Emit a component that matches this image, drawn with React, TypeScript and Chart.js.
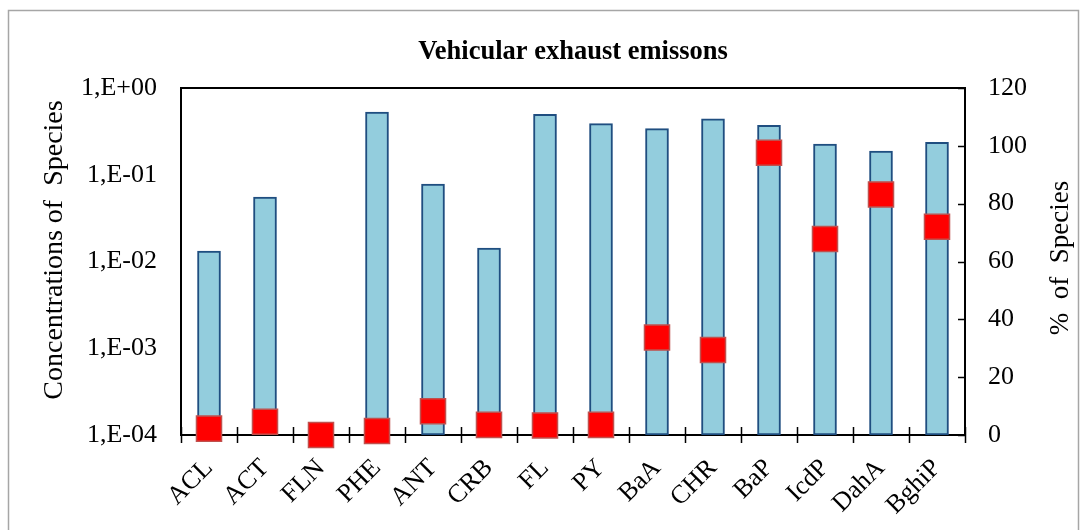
import React, { useEffect, useRef } from "react";
import { Chart, registerables } from "chart.js";

Chart.register(...registerables);

// PAH species measured in vehicular exhaust
const species = ["ACL", "ACT", "FLN", "PHE", "ANT", "CRB", "FL", "PY", "BaA", "CHR", "BaP", "IcdP", "DahA", "BghiP"];
// Concentrations (log axis); FLN has no bar
const concentrations = [0.0132, 0.0554, null, 0.529, 0.078, 0.0143, 0.497, 0.388, 0.34, 0.44, 0.372, 0.226, 0.188, 0.237];
// Share of each species (right axis, %)
const percentOfSpecies = [2.2, 4.6, 0, 1.4, 8.2, 3.5, 3.3, 3.5, 33.7, 29.4, 97.6, 67.8, 83.2, 72.0];
// Decade ticks on the concentration axis
const logTicks = [1e-4, 1e-3, 1e-2, 1e-1, 1];
const logTickLabels = ["1,E-04", "1,E-03", "1,E-02", "1,E-01", "1,E+00"];

const chartTitle = "Vehicular exhaust emissons";
const leftTitle = "Concentrations of  Species";
const rightTitle = "%  of  Species";

const SERIF = '"Liberation Serif", "Times New Roman", serif';

const decorations = {
  id: "decorations",
  beforeDraw(chart: any) {
    const { ctx, width, height } = chart;
    ctx.save();
    ctx.fillStyle = "#ffffff";
    ctx.fillRect(0, 0, width, height);
    // outer frame
    ctx.strokeStyle = "#a6a6a6";
    ctx.lineWidth = 1.5;
    ctx.strokeRect(8.5, 10.5, 1070, height + 10);
    ctx.restore();
  },
  beforeDatasetsDraw(chart: any) {
    const { ctx, chartArea } = chart;
    const { left, right, top, bottom } = chartArea;
    ctx.save();
    ctx.strokeStyle = "#000000";
    ctx.lineWidth = 2;
    ctx.strokeRect(left, top, right - left, bottom - top);
    // x-axis tick marks at category boundaries, crossing the axis
    const n = species.length;
    const step = (right - left) / n;
    ctx.lineWidth = 1.5;
    ctx.beginPath();
    for (let i = 0; i <= n; i++) {
      const x = Math.round(left + i * step) + 0.5;
      ctx.moveTo(x, bottom - 8);
      ctx.lineTo(x, bottom + 8);
    }
    // right axis tick marks, pointing inward
    const y1 = chart.scales.y1;
    y1.ticks.forEach((t: any) => {
      const y = Math.round(y1.getPixelForValue(t.value)) + 0.5;
      ctx.moveTo(right - 7, y);
      ctx.lineTo(right, y);
    });
    ctx.stroke();
    ctx.restore();
  },
  afterDraw(chart: any) {
    const { ctx, chartArea } = chart;
    ctx.save();
    ctx.fillStyle = "#000000";
    ctx.textAlign = "center";
    ctx.textBaseline = "middle";
    ctx.font = `bold 26.5px ${SERIF}`;
    ctx.fillText(chartTitle, (chartArea.left + chartArea.right) / 2, 52);

    ctx.font = `28px ${SERIF}`;
    ctx.save();
    ctx.translate(55, 250);
    ctx.rotate(-Math.PI / 2);
    ctx.fillText(leftTitle, 0, 0);
    ctx.restore();

    ctx.font = `27px ${SERIF}`;
    ctx.save();
    ctx.translate(1061, 258);
    ctx.rotate(-Math.PI / 2);
    ctx.fillText(rightTitle, 0, 0);
    ctx.restore();
    ctx.restore();
  },
};

export default function App() {
  const canvasRef = useRef<HTMLCanvasElement | null>(null);

  useEffect(() => {
    if (!canvasRef.current) return;
    const tickFont = { family: SERIF, size: 26 };
    const chart = new Chart(canvasRef.current, {
      type: "bar",
      data: {
        labels: species,
        datasets: [
          {
            type: "line",
            label: "% of Species",
            data: percentOfSpecies,
            yAxisID: "y1",
            showLine: false,
            pointStyle: "rect",
            pointRadius: 17.7,
            pointBackgroundColor: "#ff0000",
            pointBorderColor: "#c0504d",
            pointBorderWidth: 1.5,
            clip: false,
            order: 0,
          } as any,
          {
            type: "bar",
            label: "Concentrations of Species",
            data: concentrations,
            yAxisID: "y",
            backgroundColor: "#93cddd",
            borderColor: "#1f4e80",
            borderWidth: 2,
            borderSkipped: false,
            barThickness: 23,
            order: 1,
          } as any,
        ],
      },
      options: {
        responsive: false,
        animation: false,
        events: [],
        layout: { padding: { top: 88, left: 0, right: 0, bottom: 0 } },
        plugins: {
          legend: { display: false },
          tooltip: { enabled: false },
          title: { display: false },
        },
        scales: {
          x: {
            grid: { display: false, drawTicks: false },
            border: { display: false },
            ticks: {
              color: "#000",
              font: tickFont,
              minRotation: 45,
              maxRotation: 45,
              padding: 18,
              autoSkip: false,
            },
            afterFit(scale: any) {
              scale.height = 95;
            },
          },
          y: {
            type: "logarithmic",
            position: "left",
            min: 1e-4,
            max: 1,
            grid: { display: false, drawTicks: false },
            border: { display: false },
            ticks: {
              color: "#000",
              font: tickFont,
              padding: 24,
              callback: (v: any) => {
                const i = logTicks.findIndex((t) => Math.abs(t - v) / t < 1e-6);
                return i >= 0 ? logTickLabels[i] : "";
              },
            },
            afterBuildTicks(scale: any) {
              scale.ticks = logTicks.map((v) => ({ value: v }));
            },
            afterFit(scale: any) {
              scale.width = 181;
            },
          },
          y1: {
            type: "linear",
            position: "right",
            min: 0,
            max: 120,
            grid: { display: false, drawTicks: false },
            border: { display: false },
            ticks: {
              color: "#000",
              font: tickFont,
              stepSize: 20,
              padding: 23,
            },
            afterFit(scale: any) {
              scale.width = 122;
            },
          },
        },
      },
      plugins: [decorations],
    });
    return () => chart.destroy();
  }, []);

  return (
    <canvas
      ref={canvasRef}
      width={1087}
      height={530}
      style={{ position: "absolute", left: 0, top: 0, display: "block" }}
    />
  );
}
